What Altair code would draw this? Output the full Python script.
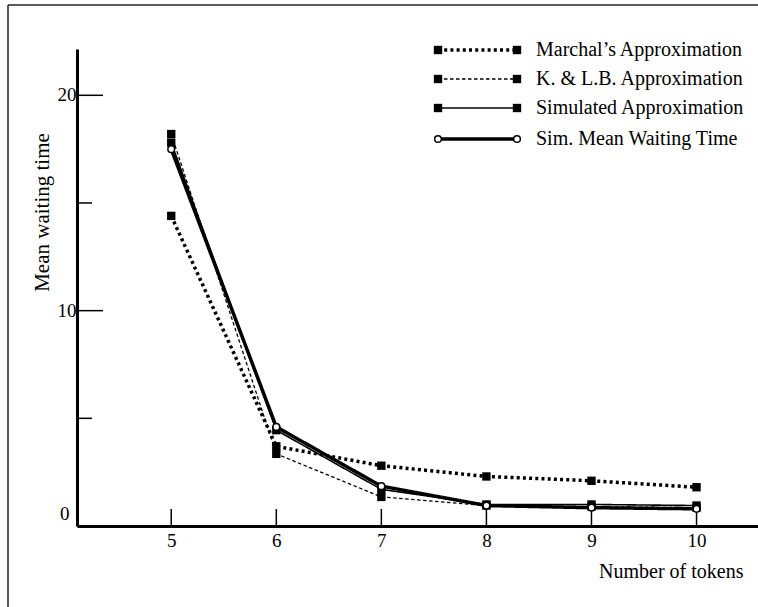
import altair as alt
import pandas as pd

# ---------------- data ----------------
tokens = [5, 6, 7, 8, 9, 10]
marchal = [14.4, 3.7, 2.8, 2.3, 2.1, 1.8]
klb = [18.2, 3.35, 1.35, 0.95, 0.9, 0.85]
simulated = [17.8, 4.45, 1.7, 1.0, 1.0, 0.95]
sim_mean = [17.5, 4.6, 1.85, 0.95, 0.85, 0.8]

series_names = [
    "Marchal\u2019s Approximation",
    "K. & L.B. Approximation",
    "Simulated Approximation",
    "Sim. Mean Waiting Time",
]
series_values = [marchal, klb, simulated, sim_mean]

x_tick_values = [5, 6, 7, 8, 9, 10]
y_label_values = [0, 10, 20]
y_major_ticks = [10, 20]
y_minor_ticks = [5, 15]

# ---------------- styling ----------------
FONT = "Liberation Serif"
FS = 19
W, H = 681, 477

styles = [
    dict(width=3.5, dash=[3, 3.2], marker="square"),
    dict(width=1.3, dash=[3.5, 2.5], marker="square"),
    dict(width=1.6, dash=[1, 0], marker="square"),
    dict(width=3.5, dash=[1, 0], marker="circle"),
]

rows = []
for name, vals in zip(series_names, series_values):
    for t, v in zip(tokens, vals):
        rows.append({"tokens": t, "value": v, "series": name})
df = pd.DataFrame(rows)
one = pd.DataFrame({"a": [0]})

xscale = alt.Scale(domain=[4.103, 10.585], nice=False, zero=False)
yscale = alt.Scale(domain=[0, 22.15], nice=False, zero=False)

xaxis = alt.Axis(
    values=x_tick_values, ticks=False, grid=False,
    domainColor="black", domainWidth=3,
    labelFont=FONT, labelFontSize=FS, labelColor="black", labelPadding=5,
    title="Number of tokens", titleFont=FONT, titleFontSize=20,
    titleFontWeight="normal", titleColor="black",
    titleX=666, titleY=51, titleAlign="right", titleBaseline="alphabetic",
)
yaxis = alt.Axis(
    labels=False, ticks=False, grid=False,
    domainColor="black", domainWidth=3,
    title="Mean waiting time", titleFont=FONT, titleFontSize=21,
    titleFontWeight="normal", titleColor="black",
    titleX=-35, titleY=163, titleAngle=270, titleAlign="center",
    titleBaseline="middle",
)


def X(field):
    return alt.X(field, type="quantitative", scale=xscale, axis=xaxis)


def Y(field):
    return alt.Y(field, type="quantitative", scale=yscale, axis=yaxis)


layers = []

# frame (left and top edges)
layers.append(alt.Chart(one).mark_rule(color="#222", strokeWidth=1.5).encode(
    x=alt.value(-69), x2=alt.value(W + 5), y=alt.value(-44)))
layers.append(alt.Chart(one).mark_rule(color="#222", strokeWidth=1.5).encode(
    x=alt.value(-69), y=alt.value(-44), y2=alt.value(H + 90)))

# inward ticks
layers.append(alt.Chart(pd.DataFrame({"v": y_major_ticks})).mark_rule(
    color="black", strokeWidth=1.5).encode(y=Y("v"), x=alt.value(0), x2=alt.value(26)))
layers.append(alt.Chart(pd.DataFrame({"v": y_minor_ticks})).mark_rule(
    color="black", strokeWidth=1.5).encode(y=Y("v"), x=alt.value(0), x2=alt.value(15)))
layers.append(alt.Chart(pd.DataFrame({"t": x_tick_values})).mark_rule(
    color="black", strokeWidth=1.5).encode(x=X("t"), y=alt.value(H), y2=alt.value(H - 17)))

# y tick labels
ylab = pd.DataFrame({"v": y_label_values})
layers.append(alt.Chart(ylab).transform_filter("datum.v > 0").mark_text(
    align="left", baseline="middle", font=FONT, fontSize=FS, color="black").encode(
    y=Y("v"), x=alt.value(-19.5), text=alt.Text("v:Q")))
layers.append(alt.Chart(ylab).transform_filter("datum.v == 0").mark_text(
    align="left", baseline="middle", font=FONT, fontSize=FS, color="black", dy=-12).encode(
    y=Y("v"), x=alt.value(-17), text=alt.Text("v:Q")))

# series lines
for name, st in zip(series_names, styles):
    layers.append(alt.Chart(df).transform_filter(alt.datum.series == name).mark_line(
        color="black", strokeWidth=st["width"], strokeDash=st["dash"]).encode(
        x=X("tokens"), y=Y("value")))

# series markers
for name, st in zip(series_names, styles):
    if st["marker"] == "square":
        mk = alt.Chart(df).transform_filter(alt.datum.series == name).mark_point(
            shape="square", filled=True, color="black", size=70, opacity=1)
    else:
        mk = alt.Chart(df).transform_filter(alt.datum.series == name).mark_point(
            shape="circle", filled=True, fill="white", stroke="black",
            strokeWidth=1.5, size=45, opacity=1)
    layers.append(mk.encode(x=X("tokens"), y=Y("value")))

# legend
leg_y = [1, 30, 59, 90]
lx0, lx1, tx = 361, 440, 459
for name, st, yy in zip(series_names, styles, leg_y):
    ld = pd.DataFrame({"label": [name]})
    layers.append(alt.Chart(ld).mark_rule(
        color="black", strokeWidth=st["width"], strokeDash=st["dash"]).encode(
        x=alt.value(lx0), x2=alt.value(lx1), y=alt.value(yy)))
    for xx in (lx0, lx1):
        if st["marker"] == "square":
            m = alt.Chart(ld).mark_point(shape="square", filled=True, color="black",
                                         size=70, opacity=1)
        else:
            m = alt.Chart(ld).mark_point(shape="circle", filled=True, fill="white",
                                         stroke="black", strokeWidth=1.5, size=45,
                                         opacity=1)
        layers.append(m.encode(x=alt.value(xx), y=alt.value(yy)))
    layers.append(alt.Chart(ld).mark_text(
        align="left", baseline="middle", font=FONT, fontSize=20, color="black").encode(
        x=alt.value(tx), y=alt.value(yy), text=alt.Text("label:N")))

chart = alt.layer(*layers).properties(
    width=W, height=H,
    autosize=alt.AutoSizeParams(type="none"),
    padding={"left": 77, "top": 49, "right": 0, "bottom": 81},
    background="white",
).configure_view(stroke=None)

chart.save("out.html", embed_options={"renderer": "svg", "actions": False})
